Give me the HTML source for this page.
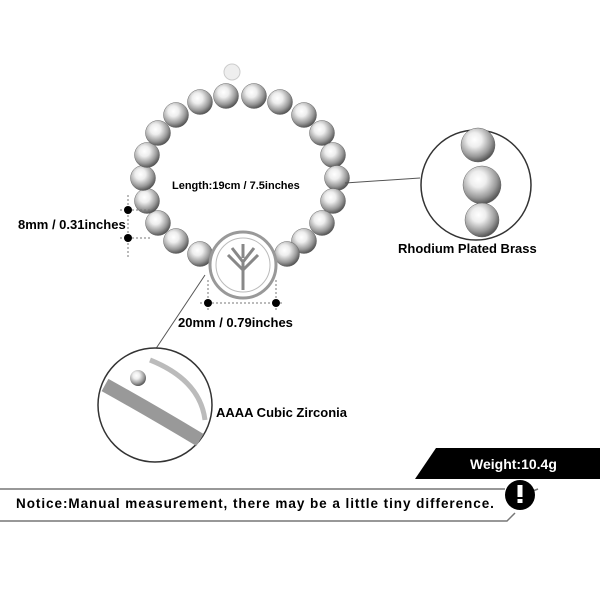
<!DOCTYPE html>
<html><head><style>
body{margin:0;background:#fff}
svg{display:block}
text{font-family:"Liberation Sans",sans-serif;font-weight:bold}
</style></head><body>
<svg width="600" height="600" viewBox="0 0 600 600">
<defs>
<radialGradient id="b" cx="0.4" cy="0.35" r="0.7">
<stop offset="0" stop-color="#fff"/><stop offset="0.3" stop-color="#eee"/><stop offset="0.7" stop-color="#999"/><stop offset="1" stop-color="#444"/>
</radialGradient>
</defs>
<g fill="url(#b)" stroke="#666" stroke-width="0.5">
<circle cx="200" cy="254" r="12.5"/><circle cx="176" cy="241" r="12.5"/><circle cx="158" cy="223" r="12.5"/>
<circle cx="147" cy="201" r="12.5"/><circle cx="143" cy="178" r="12.5"/><circle cx="147" cy="155" r="12.5"/>
<circle cx="158" cy="133" r="12.5"/><circle cx="176" cy="115" r="12.5"/><circle cx="200" cy="102" r="12.5"/>
<circle cx="226" cy="96" r="12.5"/><circle cx="254" cy="96" r="12.5"/><circle cx="280" cy="102" r="12.5"/>
<circle cx="304" cy="115" r="12.5"/><circle cx="322" cy="133" r="12.5"/><circle cx="333" cy="155" r="12.5"/>
<circle cx="337" cy="178" r="12.5"/><circle cx="333" cy="201" r="12.5"/><circle cx="322" cy="223" r="12.5"/>
<circle cx="304" cy="241" r="12.5"/><circle cx="287" cy="254" r="12.5"/>
</g>
<circle cx="243" cy="265" r="33" fill="#fff" stroke="#999" stroke-width="3"/>
<circle cx="243" cy="265" r="27" fill="none" stroke="#bbb" stroke-width="1"/>
<path d="M243 290 L243 262 M243 270 L228 255 M243 270 L258 255 M243 262 L232 248 M243 262 L254 248 M243 258 L243 244" stroke="#888" stroke-width="3" fill="none"/>
<circle cx="232" cy="72" r="8" fill="#eee" stroke="#ccc"/>
<text x="172" y="189" font-size="11">Length:19cm / 7.5inches</text>
<line x1="128" y1="195" x2="128" y2="258" stroke="#777" stroke-dasharray="2,2"/>
<line x1="120" y1="210" x2="150" y2="210" stroke="#777" stroke-dasharray="2,2"/>
<line x1="120" y1="238" x2="150" y2="238" stroke="#777" stroke-dasharray="2,2"/>
<circle cx="128" cy="210" r="4" fill="#000"/><circle cx="128" cy="238" r="4" fill="#000"/>
<text x="18" y="229" font-size="13">8mm / 0.31inches</text>
<line x1="208" y1="280" x2="208" y2="312" stroke="#777" stroke-dasharray="2,2"/>
<line x1="276" y1="280" x2="276" y2="312" stroke="#777" stroke-dasharray="2,2"/>
<line x1="200" y1="303" x2="284" y2="303" stroke="#777" stroke-dasharray="2,2"/>
<circle cx="208" cy="303" r="4" fill="#000"/><circle cx="276" cy="303" r="4" fill="#000"/>
<text x="178" y="327" font-size="13">20mm / 0.79inches</text>
<line x1="345" y1="183" x2="420" y2="178" stroke="#555"/>
<circle cx="476" cy="185" r="55" fill="#fff" stroke="#333" stroke-width="1.5"/>
<g stroke="#666" stroke-width="0.5">
<circle cx="478" cy="145" r="17" fill="url(#b)"/><circle cx="482" cy="185" r="19" fill="url(#b)"/><circle cx="482" cy="220" r="17" fill="url(#b)"/>
</g>
<text x="398" y="253" font-size="13">Rhodium Plated Brass</text>
<line x1="205" y1="275" x2="155" y2="350" stroke="#555"/>
<circle cx="155" cy="405" r="57" fill="#fff" stroke="#333" stroke-width="1.5"/>
<path d="M105 385 Q150 410 200 440" stroke="#999" stroke-width="14" fill="none"/>
<path d="M150 360 Q200 380 205 420" stroke="#bbb" stroke-width="5" fill="none"/>
<circle cx="138" cy="378" r="8" fill="url(#b)"/>
<text x="216" y="417" font-size="13">AAAA Cubic Zirconia</text>
<polygon points="436,448 600,448 600,479 415,479" fill="#000"/>
<text x="470" y="469" font-size="14" fill="#fff">Weight:10.4g</text>
<polyline points="0,489 505,489" stroke="#777" stroke-width="1.5" fill="none"/>
<polyline points="0,521 507,521 515,513" stroke="#777" stroke-width="1.5" fill="none"/>
<line x1="530" y1="492" x2="538" y2="489" stroke="#777" stroke-width="1.5"/>
<text x="16" y="508" font-size="13.5" letter-spacing="0.95">Notice:Manual measurement, there may be a little tiny difference.</text>
<circle cx="520" cy="495" r="15" fill="#000"/>
<rect x="517.5" y="485" width="5" height="12" fill="#fff"/><rect x="517.5" y="499" width="5" height="4" fill="#fff"/>
</svg>
</body></html>
